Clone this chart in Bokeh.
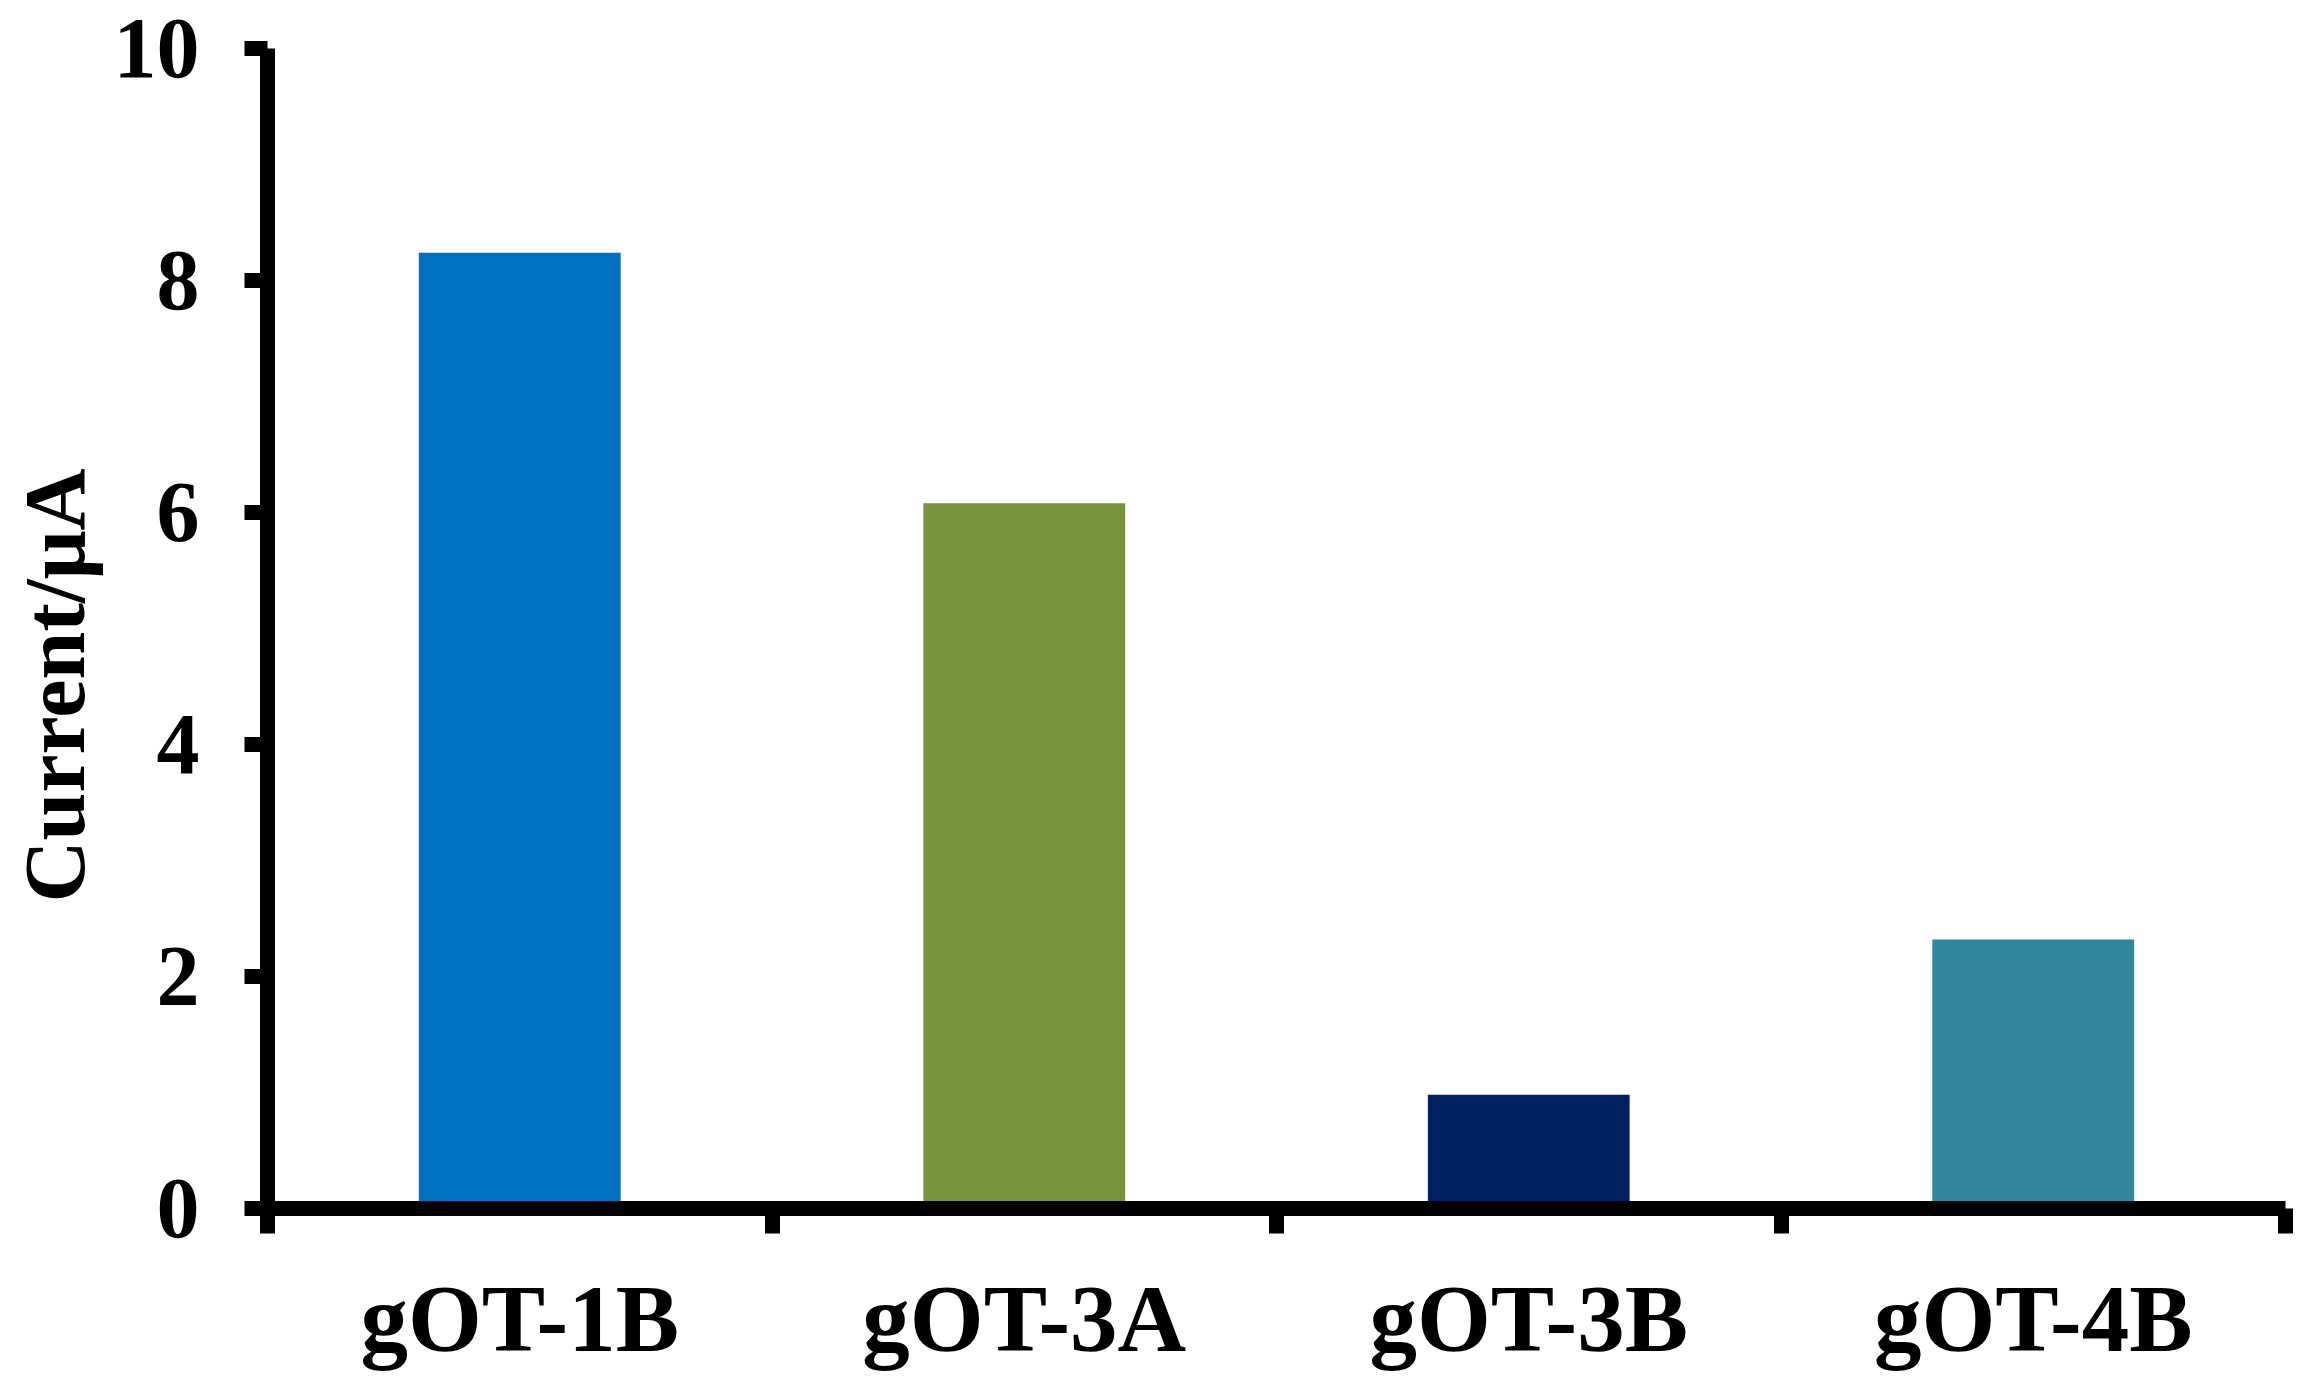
from bokeh.plotting import figure
from bokeh.models import Range1d, FixedTicker, LinearAxis, Title
from bokeh.embed import file_html
from bokeh.resources import INLINE
import numpy as np

categories = ["gOT-1B", "gOT-3A", "gOT-3B", "gOT-4B"]
currents = [8.24, 6.08, 0.98, 2.32]
colors = ["#0070C0", "#77933C", "#002060", "#31859C"]
y_ticks = [0, 2, 4, 6, 8, 10]
y_title = "Current/μA"

n = len(categories)
x_pos = list(np.arange(n) + 0.5)

p = figure(width=2300, height=1377, output_backend="svg", toolbar_location=None,
           x_range=Range1d(0, n), y_range=Range1d(0, 10),
           x_axis_type=None, y_axis_type=None,
           min_border_left=262, min_border_right=15, min_border_top=48, min_border_bottom=169)
p.outline_line_color = None
p.xgrid.visible = False
p.ygrid.visible = False
p.background_fill_color = "white"
p.border_fill_color = "white"

p.vbar(x=x_pos, top=currents, width=0.4, bottom=0, fill_color=colors, line_color=None)

FONT = "Liberation Serif"

xaxis = LinearAxis(ticker=FixedTicker(ticks=x_pos, minor_ticks=list(range(n + 1))))
xaxis.major_label_overrides = {float(x): c for x, c in zip(x_pos, categories)}
xaxis.major_tick_line_color = None
xaxis.major_tick_out = 25
xaxis.major_tick_in = 0
xaxis.minor_tick_line_color = "black"
xaxis.minor_tick_line_width = 15
xaxis.minor_tick_out = 25
xaxis.minor_tick_in = 0
xaxis.axis_line_width = 15
xaxis.axis_line_color = "black"
xaxis.major_label_text_font = FONT
xaxis.major_label_text_font_style = "bold"
xaxis.major_label_text_font_size = "95px"
xaxis.major_label_text_color = "black"
xaxis.major_label_standoff = 32
p.add_layout(xaxis, "below")

yaxis = LinearAxis(ticker=FixedTicker(ticks=y_ticks, minor_ticks=[]))
yaxis.major_tick_line_width = 15
yaxis.major_tick_out = 23
yaxis.major_tick_in = 0
yaxis.minor_tick_line_color = None
yaxis.axis_line_width = 15
yaxis.axis_line_color = "black"
yaxis.major_label_text_font = FONT
yaxis.major_label_text_font_style = "bold"
yaxis.major_label_text_font_size = "86px"
yaxis.major_label_text_color = "black"
yaxis.major_label_standoff = 45
p.add_layout(yaxis, "left")

ytitle = Title(text=y_title, align="left", offset=306, standoff=12,
               vertical_align="top",
               text_font=FONT, text_font_style="bold", text_font_size="86px",
               text_color="black")
p.add_layout(ytitle, "left")

open("out.html", "w").write(file_html(p, INLINE))
